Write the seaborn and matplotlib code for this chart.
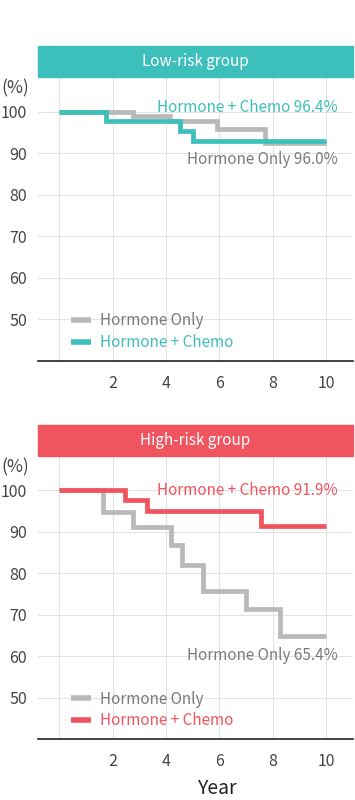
import pandas as pd
import seaborn as sns
import matplotlib.pyplot as plt
from matplotlib.patches import Rectangle
from matplotlib.lines import Line2D

# survival curves (year of each step, % surviving)
low_hormone_years = [0, 2.77, 4.15, 5.9, 7.7, 10]
low_hormone_surv = [100, 99.0, 97.7, 95.9, 92.4, 92.4]
low_chemo_years = [0, 1.75, 4.52, 5.0, 10]
low_chemo_surv = [100, 97.7, 95.3, 92.9, 92.9]

high_hormone_years = [0, 1.62, 2.77, 4.17, 4.58, 5.37, 6.99, 8.27, 10]
high_hormone_surv = [100, 94.8, 91.2, 86.7, 81.9, 75.8, 71.3, 64.8, 64.8]
high_chemo_years = [0, 2.46, 3.27, 7.55, 10]
high_chemo_surv = [100, 97.6, 94.9, 91.3, 91.3]

groups = ["Low-risk group", "High-risk group"]
chemo_labels = ["Hormone + Chemo 96.4%", "Hormone + Chemo 91.9%"]
hormone_labels = ["Hormone Only 96.0%", "Hormone Only 65.4%"]
x_ticks = [0, 2, 4, 6, 8, 10]
x_ticklabels = ["", "2", "4", "6", "8", "10"]
y_ticks = [50, 60, 70, 80, 90, 100]

sns.set_theme(style="white")
plt.rcParams["font.family"] = ["Noto Sans CJK KR", "DejaVu Sans"]

GRAY = "#b9b9b9"
GRAY_TXT = "#7a7a7a"
TEAL = "#3dbfbb"
RED = "#f0545f"

fig = plt.figure(figsize=(3.55, 8), dpi=100)
ax_top = fig.add_axes([0.107, 0.549, 0.887, 0.3546])
ax_bot = fig.add_axes([0.107, 0.0759, 0.887, 0.354])

panels = [
    (ax_top, low_hormone_years, low_hormone_surv, low_chemo_years, low_chemo_surv, TEAL, 108.4, 88.5, 101.0),
    (ax_bot, high_hormone_years, high_hormone_surv, high_chemo_years, high_chemo_surv, RED, 108.2, 60.1, 100.0),
]

for i, (ax, hx, hy, cx, cy, col, ytop, hlab_y, clab_y) in enumerate(panels):
    df_h = pd.DataFrame({"year": hx, "surv": hy})
    df_c = pd.DataFrame({"year": cx, "surv": cy})
    sns.lineplot(data=df_h, x="year", y="surv", ax=ax, color=GRAY, lw=3.4,
                 drawstyle="steps-post", estimator=None,
                 solid_joinstyle="miter", solid_capstyle="butt")
    sns.lineplot(data=df_c, x="year", y="surv", ax=ax, color=col, lw=3.4,
                 drawstyle="steps-post", estimator=None,
                 solid_joinstyle="miter", solid_capstyle="butt")

    ax.set_xlim(-0.8, 11.0)
    ax.set_ylim(40, ytop)
    ax.set_xticks(x_ticks)
    ax.set_xticklabels(x_ticklabels)
    ax.set_yticks(y_ticks)
    ax.grid(True, color="#e3e3e3", lw=0.8)
    ax.tick_params(axis="both", length=0, labelsize=11.5, colors="#444444")
    ax.tick_params(axis="y", pad=8)
    ax.tick_params(axis="x", pad=10)
    for s in ["left", "right", "top"]:
        ax.spines[s].set_visible(False)
    ax.spines["bottom"].set_color("#222222")
    ax.spines["bottom"].set_linewidth(1.2)
    ax.set_xlabel("")
    ax.set_ylabel("")

    # title bar
    bar_h = 31 / 283.7
    ax.add_patch(Rectangle((0, 1.0), 1, bar_h, transform=ax.transAxes,
                           color=col, clip_on=False))
    ax.text(0.5, 1 + bar_h / 2, groups[i], transform=ax.transAxes, ha="center",
            va="center", color="white", fontsize=11)
    ax.text(-0.115, 1 - 11 / 283.7, "(%)", transform=ax.transAxes, ha="left",
            va="center", color="#444444", fontsize=12.5)

    ax.text(10.44, clab_y, chemo_labels[i], ha="right", va="center",
            color=col, fontsize=11)
    ax.text(10.44, hlab_y, hormone_labels[i], ha="right", va="center",
            color=GRAY_TXT, fontsize=11)

    handles = [Line2D([0], [0], color=GRAY, lw=4, solid_capstyle="butt"),
               Line2D([0], [0], color=col, lw=4, solid_capstyle="butt")]
    leg = ax.legend(handles, ["Hormone Only", "Hormone + Chemo"], loc="lower left",
                    bbox_to_anchor=(0.105, 0.035), frameon=False, fontsize=11,
                    handlelength=1.3, handletextpad=0.6, labelspacing=0.3,
                    borderpad=0, borderaxespad=0)
    leg.get_texts()[0].set_color(GRAY_TXT)
    leg.get_texts()[1].set_color(col)

ax_bot.text(5.9, -0.175, "Year", transform=ax_bot.get_xaxis_transform(),
            ha="center", va="center", fontsize=14, color="#222222")

fig.savefig("out.png", dpi=100)
